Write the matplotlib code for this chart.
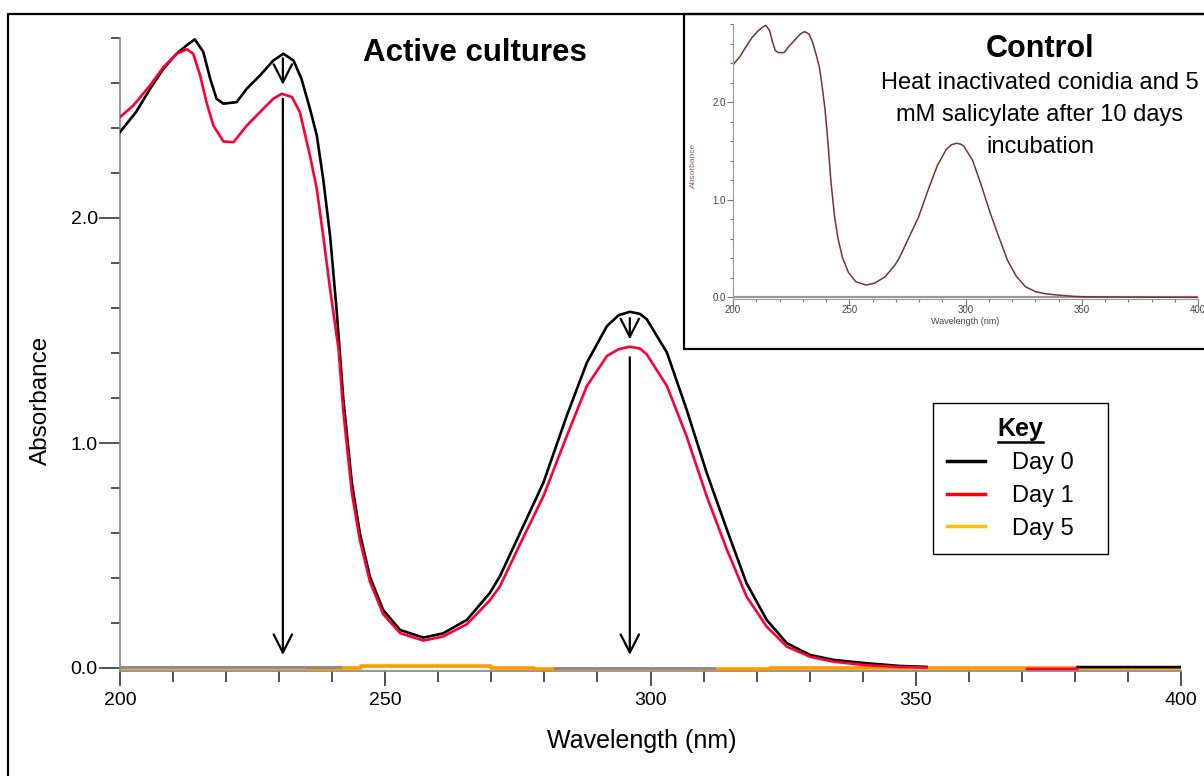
import numpy as np
import matplotlib
matplotlib.use("Agg")
import matplotlib.pyplot as plt
from matplotlib.lines import Line2D
from matplotlib.patches import Rectangle
from matplotlib.ticker import MultipleLocator

plt.rcParams['font.family'] = ['Liberation Sans', 'DejaVu Sans']

# Day 0 spectrum (black)
day0_wl = [200, 203, 205.7, 208.2, 210.7, 212.6, 214.1, 215.7, 217, 218.2, 219.5, 222, 223.9,
           226.4, 228.9, 230.8, 232.7, 234.2, 235.8, 237.1, 238.3, 239.6, 240.8, 242.1, 243.7,
           245.2, 247.1, 249.6, 252.8, 257.2, 260.9, 265.4, 269.7, 271.6, 275.4, 279.8, 284.2,
           288, 291.8, 294, 296.1, 298, 299.3, 303.1, 306.8, 310.6, 314.4, 318.1, 321.9, 325.7,
           330.1, 334.5, 340.8, 347, 352, np.nan, 380.5, 400]
day0_abs = [2.382, 2.47, 2.575, 2.664, 2.731, 2.768, 2.794, 2.738, 2.619, 2.53, 2.508, 2.515, 2.575,
            2.634, 2.70, 2.73, 2.70, 2.619, 2.486, 2.367, 2.174, 1.921, 1.60, 1.194, 0.823,
            0.60, 0.407, 0.258, 0.169, 0.135, 0.154, 0.214, 0.333, 0.407, 0.60, 0.823, 1.12,
            1.357, 1.52, 1.568, 1.583, 1.574, 1.55, 1.402, 1.149, 0.867, 0.615, 0.377, 0.214, 0.11,
            0.058, 0.036, 0.021, 0.009, 0.005, np.nan, 0.004, 0.004]

# Day 1 spectrum (red)
day1_wl = [200, 202.5, 205.7, 208.2, 210.7, 212.6, 213.8, 215.1, 216.3, 217.6, 219.5, 221.4, 223.9,
           226.4, 228.9, 230.5, 232.4, 233.9, 235.8, 237.1, 238.3, 239.6, 241.2, 242.1, 243.7,
           245.2, 247.1, 249.6, 252.8, 257.2, 260.9, 265.4, 269.7, 271.6, 275.4, 279.8, 284.2,
           288, 291.8, 294, 296.1, 298, 299.3, 303.1, 306.8, 310.6, 314.4, 318.1, 321.9, 325.7,
           330.1, 334.5, 340.8, 347, 352, np.nan, 371, 380.5]
day1_abs = [2.448, 2.50, 2.59, 2.671, 2.73, 2.75, 2.73, 2.634, 2.515, 2.411, 2.34, 2.337, 2.411,
            2.471, 2.53, 2.552, 2.538, 2.471, 2.278, 2.129, 1.921, 1.684, 1.416, 1.14, 0.78,
            0.57, 0.385, 0.24, 0.155, 0.122, 0.14, 0.195, 0.30, 0.362, 0.55, 0.763, 1.03,
            1.253, 1.387, 1.417, 1.428, 1.42, 1.394, 1.253, 1.03, 0.763, 0.526, 0.318, 0.184, 0.095,
            0.05, 0.028, 0.012, 0.005, 0.002, np.nan, -0.004, -0.004]

# Day 5 spectrum (orange), flat near zero
day5_wl = [200, 235.4, 235.4, 241.5, 241.5, 245.4, 245.4, 270, 270, 278, 278, 322.5, 322.5, 400]
day5_abs = [0.002, 0.002, -0.004, -0.004, 0.001, 0.001, 0.007, 0.007, 0.001, 0.001, -0.003, -0.003,
            0.0, 0.0]

# grey trace visible on the baseline
grey_wl = [200, 241.5, np.nan, 282, 312]
grey_abs = [0.004, 0.004, np.nan, 0.0, 0.0]

# control (inset)
ctrl_wl = [200, 203, 205.7, 208.2, 210.7, 212.6, 214.1, 215.7, 217, 218.2, 219.5, 222, 223.9,
           226.4, 228.9, 230.8, 232.7, 234.2, 235.8, 237.1, 238.3, 239.6, 240.8, 242.1, 243.7,
           245.2, 247.1, 249.6, 252.8, 257.2, 260.9, 265.4, 269.7, 271.6, 275.4, 279.8, 284.2,
           288, 291.8, 294, 296.1, 298, 299.3, 303.1, 306.8, 310.6, 314.4, 318.1, 321.9, 325.7,
           330.1, 334.5, 340.8, 347, 352, 370, 400]
ctrl_abs = [2.383, 2.47, 2.575, 2.664, 2.731, 2.768, 2.79, 2.738, 2.619, 2.53, 2.51, 2.51, 2.57,
            2.634, 2.70, 2.725, 2.70, 2.619, 2.486, 2.367, 2.174, 1.921, 1.60, 1.194, 0.823,
            0.60, 0.407, 0.258, 0.16, 0.126, 0.145, 0.21, 0.333, 0.407, 0.60, 0.823, 1.12,
            1.357, 1.52, 1.565, 1.58, 1.571, 1.55, 1.402, 1.149, 0.867, 0.615, 0.377, 0.214, 0.11,
            0.058, 0.036, 0.021, 0.009, 0.005, 0.002, 0.0]

# arrows: (x, short start, short tip, long start, long tip)
arrows = [(230.7, 2.71, 2.592, 2.53, 0.058),
          (296.1, 1.555, 1.461, 1.381, 0.058)]

W, H = 1204, 776
fig = plt.figure(figsize=(W / 100, H / 100), dpi=100)

# outer frame (left + top)
fig.add_artist(Line2D([8 / W, 8 / W, 1.01], [-0.01, 1 - 14 / H, 1 - 14 / H],
                      color='black', lw=1.6, transform=fig.transFigure))

ax = fig.add_axes([120 / W, 1 - 670.7 / H, 1061 / W, (670.7 - 38) / H])
ax.plot(grey_wl, grey_abs, color='#8c8c8c', lw=2.2, zorder=4)
ax.plot(day5_wl, day5_abs, color='#ff9a00', lw=2.6, zorder=3)
ax.plot(day0_wl, day0_abs, color='black', lw=1.9, zorder=5)
ax.plot(day1_wl, day1_abs, color='#ff0033', lw=1.9, zorder=6)

for x, s0, s1, l0, l1 in arrows:
    for a, b in [(s0, s1), (l0, l1)]:
        ax.annotate('', xy=(x, b), xytext=(x, a),
                    arrowprops=dict(arrowstyle='->,head_length=0.65,head_width=0.33',
                                    lw=1.6, color='black', mutation_scale=20,
                                    shrinkA=0, shrinkB=0), zorder=7)

ax.set_xlim(200, 400)
ax.set_ylim(-0.012, 2.8)
ax.xaxis.set_major_locator(MultipleLocator(50))
ax.xaxis.set_minor_locator(MultipleLocator(10))
ax.yaxis.set_major_locator(MultipleLocator(1.0))
ax.yaxis.set_minor_locator(MultipleLocator(0.2))
ax.yaxis.set_major_formatter(plt.FuncFormatter(lambda v, p: f"{v:.1f}"))
for s in ['top', 'right']:
    ax.spines[s].set_visible(False)
for s in ['left', 'bottom']:
    ax.spines[s].set_color('#8c8c8c')
    ax.spines[s].set_linewidth(1.3)
ax.tick_params(axis='y', which='major', length=15, width=1.2, color='#333', labelsize=14, pad=1)
ax.tick_params(axis='y', which='minor', length=6.5, width=1.2, color='#333')
ax.tick_params(axis='x', which='major', length=11, width=1.2, color='#333', labelsize=14, pad=4)
ax.tick_params(axis='x', which='minor', length=8, width=1.2, color='#333')
ax.set_xlabel('Wavelength (nm)', fontsize=18)
ax.xaxis.set_label_coords((642 - 120) / 1061, (670.7 - 729) / 632.7)
ax.set_ylabel('Absorbance', fontsize=17.5)
ax.yaxis.set_label_coords((52 - 120) / 1061, (670.7 - 400) / 632.7)

fig.text(475 / W, 1 - 53 / H, 'Active cultures', fontsize=22.5, fontweight='bold',
         ha='center', va='center')

leg_handles = [Line2D([], [], color='black', lw=2.5),
               Line2D([], [], color='#ff0000', lw=2.5),
               Line2D([], [], color='#ffc000', lw=2.5)]
leg = ax.legend(leg_handles, ['Day 0   ', 'Day 1   ', 'Day 5   '], title='Key',
                loc='upper left', bbox_to_anchor=(933 / W, 1 - 403 / H),
                bbox_transform=fig.transFigure, fontsize=17, title_fontsize=18,
                handlelength=1.6, handletextpad=1.15, labelspacing=0.46,
                borderpad=0.6, borderaxespad=0, fancybox=False, edgecolor='black',
                framealpha=1)
leg.get_title().set_fontweight('bold')
leg.get_frame().set_linewidth(1.0)
leg.set_zorder(10)

# inset box
fig.add_artist(Rectangle((684 / W, 1 - 349 / H), 0.5, (349 - 14) / H, facecolor='white',
                         edgecolor='black', lw=1.6, transform=fig.transFigure, zorder=1))

ins = fig.add_axes([733 / W, 1 - 298.5 / H, 465 / W, (298.5 - 24.3) / H], zorder=2)
ins.patch.set_alpha(0)
ins.plot(ctrl_wl, ctrl_abs, color='#7b3232', lw=1.1)
ins.axhline(0, color='#9a9a9a', lw=1.6, zorder=1)
ins.set_xlim(200, 400)
ins.set_ylim(-0.012, 2.8)
ins.xaxis.set_major_locator(MultipleLocator(50))
ins.xaxis.set_minor_locator(MultipleLocator(10))
ins.yaxis.set_major_locator(MultipleLocator(1.0))
ins.yaxis.set_minor_locator(MultipleLocator(0.2))
ins.yaxis.set_major_formatter(plt.FuncFormatter(lambda v, p: f"{v:.1f}"))
for s in ['top', 'right']:
    ins.spines[s].set_visible(False)
for s in ['left', 'bottom']:
    ins.spines[s].set_color('#9a9a9a')
ins.tick_params(which='major', length=4, width=0.8, color='#777', labelsize=7,
                labelcolor='#444', pad=1)
ins.tick_params(which='minor', length=2.5, width=0.8, color='#777')
ins.set_xlabel('Wavelength (nm)', fontsize=6.5, color='#444', labelpad=1)
ins.set_ylabel('Absorbance', fontsize=6, color='#8a6464')
ins.yaxis.set_label_coords((697 - 733) / 465, (298.5 - 165) / 274.2)

fig.text(1040 / W, 1 - 49 / H, 'Control', fontsize=22, fontweight='bold',
         ha='center', va='center', zorder=3)
fig.text(1040 / W, 1 - 115 / H,
         'Heat inactivated conidia and 5\nmM salicylate after 10 days\nincubation',
         fontsize=17, ha='center', va='center', linespacing=1.6, zorder=3)

# underline the legend title
fig.canvas.draw()
r = fig.canvas.get_renderer()
bb = leg.get_title().get_window_extent(r)
fig.add_artist(Line2D([bb.x0 / W, bb.x1 / W], [(bb.y0 - 1) / H, (bb.y0 - 1) / H],
                      color='black', lw=1.8, transform=fig.transFigure, zorder=11))

fig.savefig('out.png', dpi=100)
